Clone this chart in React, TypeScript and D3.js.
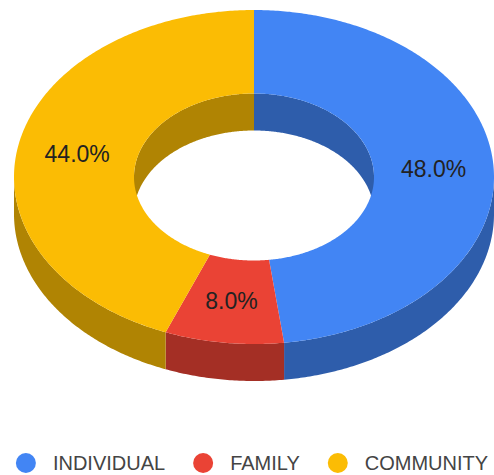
import React from "react";
import * as d3 from "d3";

const categories = ["INDIVIDUAL", "FAMILY", "COMMUNITY"];
const values = [48, 8, 44];
const colors = ["#4285f4", "#ea4335", "#fbbc04"];

const W = 494;
const H = 475;
const cx = 254;
const cy = 177;
const rx = 240;
const ry = 167;
const hole = 0.5;
const depth = 37;
const FONT = "'Liberation Sans', Arial, sans-serif";

type Pt = [number, number];

function ellPt(rxv: number, ryv: number, dy: number, t: number): Pt {
  return [cx + rxv * Math.sin(t), cy - ryv * Math.cos(t) + dy];
}
function arcPts(rxv: number, ryv: number, dy: number, a: number, b: number): Pt[] {
  const n = Math.max(2, Math.ceil(Math.abs(b - a) / 0.01));
  return d3.range(n + 1).map((i) => ellPt(rxv, ryv, dy, a + ((b - a) * i) / n));
}
const line = d3.line<Pt>().curve(d3.curveLinearClosed);

function intersect(a1: number, a2: number, b1: number, b2: number): [number, number] | null {
  const s = Math.max(a1, b1);
  const e = Math.min(a2, b2);
  return e > s ? [s, e] : null;
}

function measure(text: string, font: string): number {
  if (typeof document === "undefined") return text.length * 11;
  const c = document.createElement("canvas").getContext("2d");
  if (!c) return text.length * 11;
  c.font = font;
  return c.measureText(text).width;
}

export default function App() {
  const pie = d3.pie<number>().sort(null).value((d) => d);
  const arcs = pie(values);
  const total = d3.sum(values);
  const fmt = d3.format(".1%");
  const rxi = rx * hole;
  const ryi = ry * hole;
  const PI = Math.PI;

  const innerWalls: JSX.Element[] = [];
  const outerWalls: JSX.Element[] = [];
  const tops: JSX.Element[] = [];
  const labels: JSX.Element[] = [];

  arcs.forEach((a, i) => {
    const side = d3.rgb(colors[i]).darker(1).formatHex();
    // inner wall visible on back half: [-PI/2, PI/2] and [3PI/2, 5PI/2]
    [[-PI / 2, PI / 2], [1.5 * PI, 2.5 * PI]].forEach(([s, e], k) => {
      const seg = intersect(a.startAngle, a.endAngle, s, e);
      if (seg) {
        const pts = arcPts(rxi, ryi, 0, seg[0], seg[1]).concat(
          arcPts(rxi, ryi, depth, seg[1], seg[0])
        );
        innerWalls.push(<path key={`iw${i}-${k}`} d={line(pts) || ""} fill={side} />);
      }
    });
    const oseg = intersect(a.startAngle, a.endAngle, PI / 2, 1.5 * PI);
    if (oseg) {
      const pts = arcPts(rx, ry, 0, oseg[0], oseg[1]).concat(
        arcPts(rx, ry, depth, oseg[1], oseg[0])
      );
      outerWalls.push(<path key={`ow${i}`} d={line(pts) || ""} fill={side} />);
    }
    const tp = arcPts(rx, ry, 0, a.startAngle, a.endAngle).concat(
      arcPts(rxi, ryi, 0, a.endAngle, a.startAngle)
    );
    tops.push(<path key={`t${i}`} d={line(tp) || ""} fill={colors[i]} />);
    const mid = (a.startAngle + a.endAngle) / 2;
    const [lx, ly] = ellPt(rx * 0.75, ry * 0.75, 0, mid);
    labels.push(
      <text
        key={`l${i}`}
        x={lx}
        y={ly + 8}
        textAnchor="middle"
        fontFamily={FONT}
        fontSize={23}
        fill="#222222"
      >
        {fmt(values[i] / total)}
      </text>
    );
  });

  // legend
  const legFont = `20px ${FONT}`;
  const r = 10;
  const gapText = 27;
  const gapItem = 28;
  const widths = categories.map((c) => measure(c, legFont));
  const itemW = widths.map((w) => 2 * r + (gapText - r) + w);
  const totalW = d3.sum(itemW) + gapItem * (categories.length - 1);
  let x0 = 252 - totalW / 2;
  const legendY = 463;
  const legend = categories.map((c, i) => {
    const start = x0;
    x0 += itemW[i] + gapItem;
    return (
      <g key={`lg${i}`}>
        <circle cx={start + r} cy={legendY} r={r} fill={colors[i]} />
        <text
          x={start + r + gapText}
          y={legendY + 7}
          fontFamily={FONT}
          fontSize={20}
          fill="#444444"
        >
          {c}
        </text>
      </g>
    );
  });

  return (
    <svg
      width={W}
      height={H}
      style={{ position: "absolute", left: 0, top: 0, background: "#ffffff" }}
    >
      <rect width={W} height={H} fill="#ffffff" />
      {innerWalls}
      {outerWalls}
      {tops}
      {labels}
      {legend}
    </svg>
  );
}
